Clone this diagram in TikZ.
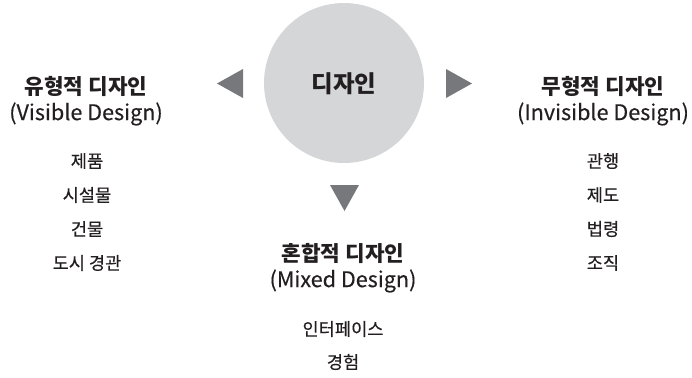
\documentclass[tikz,border=0pt]{standalone}
\usepackage{fontspec}
\setmainfont{Noto Sans CJK KR}
\newfontfamily\medfont{Noto Sans CJK KR}[FakeBold=0.35]
\begin{document}
\begin{tikzpicture}[x=1pt,y=-1pt,
  head/.style={font=\fontsize{21.3}{24}\selectfont\bfseries, text=txt, inner sep=0pt, anchor=center},
  sub/.style={font=\medfont\fontsize{21.6}{24}\selectfont, text=txt, inner sep=0pt, anchor=center},
  item/.style={font=\medfont\fontsize{17.6}{20}\selectfont, text=txt, inner sep=0pt, anchor=center},
  tri/.style={fill=trigray, draw=none}]
\definecolor{txt}{HTML}{231F20}
\definecolor{circ}{HTML}{D5D6D8}
\definecolor{trigray}{HTML}{77787B}
\useasboundingbox (0,0) rectangle (692,377);
% central circle
\fill[circ] (344,83) circle[radius=80];
\node[font=\fontsize{23.5}{26}\selectfont\bfseries, text=txt, inner sep=0pt] (center) at (344,84) {디자인};
% triangles
\fill[tri] (217,83.5) -- (243,69) -- (243,98) -- cycle;
\fill[tri] (472,83.5) -- (446,69) -- (446,98) -- cycle;
\fill[tri] (344.5,211) -- (330,185) -- (359,185) -- cycle;
% left
\node[head] (lh1) at (86,86) {유형적 디자인};
\node[sub] (lh2) at (86,114) {(Visible Design)};
\node[item] (l1) at (87,161) {제품};
\node[item] (l2) at (87,195) {시설물};
\node[item] (l3) at (87,229) {건물};
\node[item] (l4) at (87,263) {도시 경관};
% right
\node[head] (rh1) at (603,86) {무형적 디자인};
\node[sub] (rh2) at (603,114) {(Invisible Design)};
\node[item] (r1) at (603,161) {관행};
\node[item] (r2) at (603,195) {제도};
\node[item] (r3) at (603,229) {법령};
\node[item] (r4) at (603,263) {조직};
% bottom
\node[head] (bh1) at (343,253) {혼합적 디자인};
\node[sub] (bh2) at (343,281) {(Mixed Design)};
\node[item] (b1) at (343,329) {인터페이스};
\node[item] (b2) at (343,362) {경험};
\end{tikzpicture}
\end{document}
